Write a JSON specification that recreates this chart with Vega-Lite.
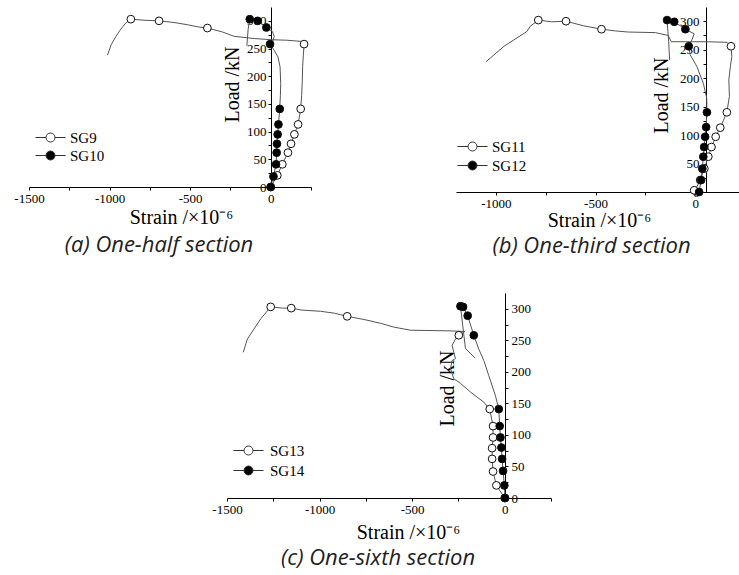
{
  "$schema": "https://vega.github.io/schema/vega-lite/v6.json",
  "background": "white",
  "padding": {"left": 13, "top": 7, "right": 0, "bottom": 8},
  "config": {
    "view": {"stroke": null},
    "axis": {"grid": false, "domainColor": "#000", "tickColor": "#000", "labelColor": "#000", "titleColor": "#000", "labelFont": "Liberation Serif", "labelFontSize": 13, "titleFont": "Liberation Serif", "titleFontSize": 20, "titleFontWeight": "normal", "tickSize": 3, "labelFlush": false, "labelOverlap": false, "labelBound": false, "domainWidth": 1, "tickWidth": 1},
    "legend": {"labelFont": "Liberation Serif", "labelFontSize": 15, "labelColor": "#000", "padding": 0, "symbolStrokeColor": "#333", "symbolStrokeWidth": 1, "symbolOpacity": 1, "symbolSize": 324, "symbolType": "M-1.67,0L-0.5,0M0.5,0L1.67,0M0.5,0A0.5,0.5,0,1,1,-0.5,0A0.5,0.5,0,1,1,0.5,0Z"},
    "title": {"font": "Open Sans", "fontStyle": "italic", "fontSize": 22, "fontWeight": "normal", "color": "#222", "orient": "bottom", "frame": "group", "anchor": "middle", "baseline": "top"}
  },
  "datasets": {
    "lineA": [
      {"series":"SG9","order":1,"strain":0,"load":0},{"series":"SG9","order":2,"strain":41,"load":21},{"series":"SG9","order":3,"strain":72,"load":41},{"series":"SG9","order":4,"strain":107,"load":62},{"series":"SG9","order":5,"strain":126,"load":78},{"series":"SG9","order":6,"strain":147,"load":95},{"series":"SG9","order":7,"strain":170,"load":113},{"series":"SG9","order":8,"strain":186,"load":141},{"series":"SG9","order":9,"strain":192,"load":165},{"series":"SG9","order":10,"strain":196,"load":193},{"series":"SG9","order":11,"strain":198,"load":217},{"series":"SG9","order":12,"strain":203,"load":240},{"series":"SG9","order":13,"strain":207,"load":258},{"series":"SG9","order":14,"strain":185,"load":263},{"series":"SG9","order":15,"strain":100,"load":265},{"series":"SG9","order":16,"strain":0,"load":266},{"series":"SG9","order":17,"strain":-100,"load":268},{"series":"SG9","order":18,"strain":-227,"load":272},{"series":"SG9","order":19,"strain":-300,"load":280},{"series":"SG9","order":20,"strain":-393,"load":287},{"series":"SG9","order":21,"strain":-450,"load":289},{"series":"SG9","order":22,"strain":-517,"load":293},{"series":"SG9","order":23,"strain":-600,"load":297},{"series":"SG9","order":24,"strain":-693,"load":300},{"series":"SG9","order":25,"strain":-780,"load":301},{"series":"SG9","order":26,"strain":-868,"load":303},{"series":"SG9","order":27,"strain":-900,"load":296},{"series":"SG9","order":28,"strain":-935,"load":283},{"series":"SG9","order":29,"strain":-960,"load":272},{"series":"SG9","order":30,"strain":-990,"load":257},{"series":"SG9","order":31,"strain":-1013,"load":238},
      {"series":"SG10","order":1,"strain":0,"load":0},{"series":"SG10","order":2,"strain":17,"load":19},{"series":"SG10","order":3,"strain":33,"load":41},{"series":"SG10","order":4,"strain":37,"load":62},{"series":"SG10","order":5,"strain":39,"load":78},{"series":"SG10","order":6,"strain":43,"load":95},{"series":"SG10","order":7,"strain":48,"load":113},{"series":"SG10","order":8,"strain":56,"load":141},{"series":"SG10","order":9,"strain":60,"load":165},{"series":"SG10","order":10,"strain":62,"load":187},{"series":"SG10","order":11,"strain":58,"load":217},{"series":"SG10","order":12,"strain":45,"load":235},{"series":"SG10","order":13,"strain":21,"load":247},{"series":"SG10","order":14,"strain":-4,"load":258},{"series":"SG10","order":15,"strain":15,"load":265},{"series":"SG10","order":16,"strain":22,"load":272},{"series":"SG10","order":17,"strain":10,"load":281},{"series":"SG10","order":18,"strain":-27,"load":288},{"series":"SG10","order":19,"strain":-81,"load":300},{"series":"SG10","order":20,"strain":-130,"load":303},{"series":"SG10","order":21,"strain":-140,"load":285},{"series":"SG10","order":22,"strain":-148,"load":255}
    ],
    "ptsA": [
      {"series":"SG9","strain":0,"load":0},{"series":"SG9","strain":41,"load":21},{"series":"SG9","strain":72,"load":41},{"series":"SG9","strain":107,"load":62},{"series":"SG9","strain":126,"load":78},{"series":"SG9","strain":147,"load":95},{"series":"SG9","strain":170,"load":113},{"series":"SG9","strain":186,"load":141},{"series":"SG9","strain":207,"load":258},{"series":"SG9","strain":-393,"load":287},{"series":"SG9","strain":-693,"load":300},{"series":"SG9","strain":-868,"load":303},
      {"series":"SG10","strain":0,"load":0},{"series":"SG10","strain":17,"load":19},{"series":"SG10","strain":33,"load":41},{"series":"SG10","strain":37,"load":62},{"series":"SG10","strain":39,"load":78},{"series":"SG10","strain":43,"load":95},{"series":"SG10","strain":48,"load":113},{"series":"SG10","strain":56,"load":141},{"series":"SG10","strain":-4,"load":258},{"series":"SG10","strain":-27,"load":288},{"series":"SG10","strain":-81,"load":300},{"series":"SG10","strain":-130,"load":303}
    ],
    "lineB": [
      {"series":"SG11","order":1,"strain":-5,"load":3},{"series":"SG11","order":2,"strain":10,"load":10},{"series":"SG11","order":3,"strain":25,"load":21},{"series":"SG11","order":4,"strain":46,"load":41},{"series":"SG11","order":5,"strain":66,"load":62},{"series":"SG11","order":6,"strain":82,"load":79},{"series":"SG11","order":7,"strain":103,"load":97},{"series":"SG11","order":8,"strain":126,"load":113},{"series":"SG11","order":9,"strain":159,"load":140},{"series":"SG11","order":10,"strain":172,"load":168},{"series":"SG11","order":11,"strain":169,"load":197},{"series":"SG11","order":12,"strain":177,"load":221},{"series":"SG11","order":13,"strain":184,"load":238},{"series":"SG11","order":14,"strain":180,"load":256},{"series":"SG11","order":15,"strain":160,"load":263},{"series":"SG11","order":16,"strain":50,"load":264},{"series":"SG11","order":17,"strain":-50,"load":264},{"series":"SG11","order":18,"strain":-120,"load":264},{"series":"SG11","order":19,"strain":-135,"load":275},{"series":"SG11","order":20,"strain":-200,"load":280},{"series":"SG11","order":21,"strain":-336,"load":281},{"series":"SG11","order":22,"strain":-400,"load":283},{"series":"SG11","order":23,"strain":-470,"load":286},{"series":"SG11","order":24,"strain":-560,"load":292},{"series":"SG11","order":25,"strain":-648,"load":300},{"series":"SG11","order":26,"strain":-720,"load":299},{"series":"SG11","order":27,"strain":-787,"load":302},{"series":"SG11","order":28,"strain":-828,"load":291},{"series":"SG11","order":29,"strain":-844,"load":282},{"series":"SG11","order":30,"strain":-893,"load":271},{"series":"SG11","order":31,"strain":-959,"load":256},{"series":"SG11","order":32,"strain":-1049,"load":229},
      {"series":"SG12","order":1,"strain":20,"load":0},{"series":"SG12","order":2,"strain":30,"load":21},{"series":"SG12","order":3,"strain":36,"load":41},{"series":"SG12","order":4,"strain":41,"load":62},{"series":"SG12","order":5,"strain":45,"load":79},{"series":"SG12","order":6,"strain":50,"load":97},{"series":"SG12","order":7,"strain":55,"load":114},{"series":"SG12","order":8,"strain":59,"load":140},{"series":"SG12","order":9,"strain":58,"load":165},{"series":"SG12","order":10,"strain":41,"load":191},{"series":"SG12","order":11,"strain":8,"load":221},{"series":"SG12","order":12,"strain":-25,"load":241},{"series":"SG12","order":13,"strain":-32,"load":256},{"series":"SG12","order":14,"strain":-15,"load":268},{"series":"SG12","order":15,"strain":-5,"load":278},{"series":"SG12","order":16,"strain":-49,"load":286},{"series":"SG12","order":17,"strain":-105,"load":299},{"series":"SG12","order":18,"strain":-141,"load":302},{"series":"SG12","order":19,"strain":-133,"load":265},{"series":"SG12","order":20,"strain":-128,"load":232}
    ],
    "ptsB": [
      {"series":"SG11","strain":-5,"load":3},{"series":"SG11","strain":25,"load":21},{"series":"SG11","strain":46,"load":41},{"series":"SG11","strain":66,"load":62},{"series":"SG11","strain":82,"load":79},{"series":"SG11","strain":103,"load":97},{"series":"SG11","strain":126,"load":113},{"series":"SG11","strain":159,"load":140},{"series":"SG11","strain":180,"load":256},{"series":"SG11","strain":-470,"load":286},{"series":"SG11","strain":-648,"load":300},{"series":"SG11","strain":-787,"load":302},
      {"series":"SG12","strain":20,"load":0},{"series":"SG12","strain":30,"load":21},{"series":"SG12","strain":36,"load":41},{"series":"SG12","strain":41,"load":62},{"series":"SG12","strain":45,"load":79},{"series":"SG12","strain":50,"load":97},{"series":"SG12","strain":55,"load":114},{"series":"SG12","strain":59,"load":140},{"series":"SG12","strain":-32,"load":256},{"series":"SG12","strain":-49,"load":286},{"series":"SG12","strain":-105,"load":299},{"series":"SG12","strain":-141,"load":302}
    ],
    "lineC": [
      {"series":"SG13","order":1,"strain":0,"load":0},{"series":"SG13","order":2,"strain":-45,"load":20},{"series":"SG13","order":3,"strain":-63,"load":42},{"series":"SG13","order":4,"strain":-68,"load":62},{"series":"SG13","order":5,"strain":-68,"load":79},{"series":"SG13","order":6,"strain":-63,"load":96},{"series":"SG13","order":7,"strain":-63,"load":114},{"series":"SG13","order":8,"strain":-81,"load":141},{"series":"SG13","order":9,"strain":-113,"load":152},{"series":"SG13","order":10,"strain":-185,"load":168},{"series":"SG13","order":11,"strain":-240,"load":182},{"series":"SG13","order":12,"strain":-275,"load":189},{"series":"SG13","order":13,"strain":-293,"load":205},{"series":"SG13","order":14,"strain":-284,"load":218},{"series":"SG13","order":15,"strain":-266,"load":221},{"series":"SG13","order":16,"strain":-275,"load":231},{"series":"SG13","order":17,"strain":-284,"load":242},{"series":"SG13","order":18,"strain":-266,"load":252},{"series":"SG13","order":19,"strain":-248,"load":258},{"series":"SG13","order":20,"strain":-215,"load":264},{"series":"SG13","order":21,"strain":-300,"load":265},{"series":"SG13","order":22,"strain":-509,"load":266},{"series":"SG13","order":23,"strain":-600,"load":271},{"series":"SG13","order":24,"strain":-671,"load":277},{"series":"SG13","order":25,"strain":-760,"load":283},{"series":"SG13","order":26,"strain":-851,"load":288},{"series":"SG13","order":27,"strain":-920,"load":293},{"series":"SG13","order":28,"strain":-995,"load":296},{"series":"SG13","order":29,"strain":-1100,"load":298},{"series":"SG13","order":30,"strain":-1153,"load":301},{"series":"SG13","order":31,"strain":-1200,"load":301},{"series":"SG13","order":32,"strain":-1264,"load":303},{"series":"SG13","order":33,"strain":-1318,"load":284},{"series":"SG13","order":34,"strain":-1354,"load":268},{"series":"SG13","order":35,"strain":-1390,"load":252},{"series":"SG13","order":36,"strain":-1412,"load":231},
      {"series":"SG14","order":1,"strain":2,"load":0},{"series":"SG14","order":2,"strain":-2,"load":20},{"series":"SG14","order":3,"strain":-9,"load":43},{"series":"SG14","order":4,"strain":-14,"load":62},{"series":"SG14","order":5,"strain":-18,"load":80},{"series":"SG14","order":6,"strain":-23,"load":96},{"series":"SG14","order":7,"strain":-27,"load":114},{"series":"SG14","order":8,"strain":-32,"load":141},{"series":"SG14","order":9,"strain":-50,"load":162},{"series":"SG14","order":10,"strain":-86,"load":194},{"series":"SG14","order":11,"strain":-113,"load":218},{"series":"SG14","order":12,"strain":-140,"load":236},{"series":"SG14","order":13,"strain":-167,"load":258},{"series":"SG14","order":14,"strain":-200,"load":289},{"series":"SG14","order":15,"strain":-225,"load":303},{"series":"SG14","order":16,"strain":-239,"load":304},{"series":"SG14","order":17,"strain":-227,"load":274},{"series":"SG14","order":18,"strain":-212,"load":237},{"series":"SG14","order":19,"strain":-160,"load":222}
    ],
    "ptsC": [
      {"series":"SG13","strain":0,"load":0},{"series":"SG13","strain":-45,"load":20},{"series":"SG13","strain":-63,"load":42},{"series":"SG13","strain":-68,"load":62},{"series":"SG13","strain":-68,"load":79},{"series":"SG13","strain":-63,"load":96},{"series":"SG13","strain":-63,"load":114},{"series":"SG13","strain":-81,"load":141},{"series":"SG13","strain":-248,"load":258},{"series":"SG13","strain":-851,"load":288},{"series":"SG13","strain":-1153,"load":301},{"series":"SG13","strain":-1264,"load":303},
      {"series":"SG14","strain":2,"load":0},{"series":"SG14","strain":-2,"load":20},{"series":"SG14","strain":-9,"load":43},{"series":"SG14","strain":-14,"load":62},{"series":"SG14","strain":-18,"load":80},{"series":"SG14","strain":-23,"load":96},{"series":"SG14","strain":-27,"load":114},{"series":"SG14","strain":-32,"load":141},{"series":"SG14","strain":-167,"load":258},{"series":"SG14","strain":-200,"load":289},{"series":"SG14","strain":-225,"load":303},{"series":"SG14","strain":-239,"load":304}
    ]
  },
  "vconcat": [
    {
      "hconcat": [
        {
          "width": 282, "height": 180,
          "title": {"text": "(a) One-half section", "dx": -11, "offset": 8},
          "encoding": {
            "x": {"field": "strain", "type": "quantitative", "scale": {"domain": [-1500, 250], "nice": false, "zero": false},
              "axis": {"values": [-1500, -1250, -1000, -750, -500, -250, 0, 250], "labelExpr": "datum.value % 500 === 0 ? '' + datum.value : ''", "labelOverlap": false, "title": "Strain /×10⁻⁶", "titleX": 152, "titleY": 36, "titleBaseline": "alphabetic", "titleAlign": "center", "labelPadding": 2}},
            "y": {"field": "load", "type": "quantitative", "scale": {"domain": [0, 325], "nice": false},
              "axis": {"orient": "left", "offset": -242, "values": [0, 25, 50, 75, 100, 125, 150, 175, 200, 225, 250, 275, 300], "labelExpr": "datum.value % 50 === 0 ? '' + datum.value : ''", "labelOverlap": false, "title": "Load /kN", "titleAngle": 270, "titleBaseline": "alphabetic", "titleAlign": "center", "titleX": -33, "titleY": 77, "labelPadding": 2}}
          },
          "layer": [
            {
              "data": {"name": "lineA"},
              "mark": {"type": "line", "color": "#555", "strokeWidth": 1},
              "encoding": {"detail": {"field": "series"}, "order": {"field": "order"}}
            },
            {
              "data": {"name": "ptsA"},
              "mark": {"type": "point", "filled": true, "size": 60, "stroke": "#111", "strokeWidth": 1, "opacity": 1},
              "encoding": {
                "fill": {"field": "series", "type": "nominal", "scale": {"domain": ["SG9", "SG10"], "range": ["white", "black"]},
                  "legend": {"orient": "none", "legendX": 12, "legendY": 121, "title": null, "labelOffset": 10, "rowPadding": 0}}
              }
            }
          ]
        },
        {
          "width": 283, "height": 185,
          "title": {"text": "(b) One-third section", "dx": -6, "offset": 6},
          "encoding": {
            "x": {"field": "strain", "type": "quantitative", "scale": {"domain": [-1200, 220], "nice": false, "zero": false},
              "axis": {"values": [-1000, -750, -500, -250, 0], "labelExpr": "datum.value % 500 === 0 ? '' + datum.value : ''", "labelOverlap": false, "title": "Strain /×10⁻⁶", "titleX": 143, "titleY": 34, "titleBaseline": "alphabetic", "titleAlign": "center", "labelPadding": 2}},
            "y": {"field": "load", "type": "quantitative", "scale": {"domain": [0, 325], "nice": false},
              "axis": {"orient": "left", "offset": -250, "values": [0, 25, 50, 75, 100, 125, 150, 175, 200, 225, 250, 275, 300], "labelExpr": "datum.value % 50 === 0 ? '' + datum.value : ''", "labelOverlap": false, "title": "Load /kN", "titleAngle": 270, "titleBaseline": "alphabetic", "titleAlign": "center", "titleX": -39, "titleY": 88, "labelPadding": 4}}
          },
          "layer": [
            {
              "data": {"name": "lineB"},
              "mark": {"type": "line", "color": "#555", "strokeWidth": 1},
              "encoding": {"detail": {"field": "series"}, "order": {"field": "order"}}
            },
            {
              "data": {"name": "ptsB"},
              "mark": {"type": "point", "filled": true, "size": 60, "stroke": "#111", "strokeWidth": 1, "opacity": 1},
              "encoding": {
                "fill": {"field": "series", "type": "nominal", "scale": {"domain": ["SG11", "SG12"], "range": ["white", "black"]},
                  "legend": {"orient": "none", "legendX": 7, "legendY": 130, "title": null, "labelOffset": 10, "rowPadding": 1}}
              }
            }
          ]
        }
      ],
      "spacing": 145,
      "bounds": "flush",
      "resolve": {"scale": {"x": "independent", "y": "independent", "fill": "independent"}, "legend": {"fill": "independent"}, "axis": {"x": "independent", "y": "independent"}}
    },
    {
      "hconcat": [
        {"width": 53, "height": 1, "view": {"fill": "white", "stroke": null}, "data": {"values": []}, "mark": {"type": "point", "opacity": 0}},
        {
          "width": 324, "height": 205,
          "title": {"text": "(c) One-sixth section", "dx": -11, "offset": 6},
          "encoding": {
            "x": {"field": "strain", "type": "quantitative", "scale": {"domain": [-1500, 250], "nice": false, "zero": false},
              "axis": {"values": [-1500, -1250, -1000, -750, -500, -250, 0, 250], "labelExpr": "datum.value % 500 === 0 ? '' + datum.value : ''", "labelOverlap": false, "title": "Strain /×10⁻⁶", "titleX": 181, "titleY": 40, "titleBaseline": "alphabetic", "titleAlign": "center", "labelPadding": 2}},
            "y": {"field": "load", "type": "quantitative", "scale": {"domain": [0, 325], "nice": false},
              "axis": {"orient": "right", "offset": -46, "values": [0, 25, 50, 75, 100, 125, 150, 175, 200, 225, 250, 275, 300], "labelExpr": "datum.value % 50 === 0 ? '' + datum.value : ''", "labelOverlap": false, "title": "Load /kN", "titleAngle": 270, "titleBaseline": "alphabetic", "titleAlign": "center", "titleX": -52, "titleY": 95, "labelPadding": 3}}
          },
          "layer": [
            {
              "data": {"name": "lineC"},
              "mark": {"type": "line", "color": "#555", "strokeWidth": 1},
              "encoding": {"detail": {"field": "series"}, "order": {"field": "order"}}
            },
            {
              "data": {"name": "ptsC"},
              "mark": {"type": "point", "filled": true, "size": 60, "stroke": "#111", "strokeWidth": 1, "opacity": 1},
              "encoding": {
                "fill": {"field": "series", "type": "nominal", "scale": {"domain": ["SG13", "SG14"], "range": ["white", "black"]},
                  "legend": {"orient": "none", "legendX": 12, "legendY": 148, "title": null, "labelOffset": 12, "rowPadding": 2}}
              }
            }
          ]
        }
      ],
      "spacing": 145,
      "bounds": "flush",
      "resolve": {"scale": {"x": "independent", "y": "independent", "fill": "independent"}, "legend": {"fill": "independent"}, "axis": {"x": "independent", "y": "independent"}}
    }
  ],
  "spacing": 36,
  "resolve": {"scale": {"x": "independent", "y": "independent", "fill": "independent"}, "legend": {"fill": "independent"}, "axis": {"x": "independent", "y": "independent"}}
}
